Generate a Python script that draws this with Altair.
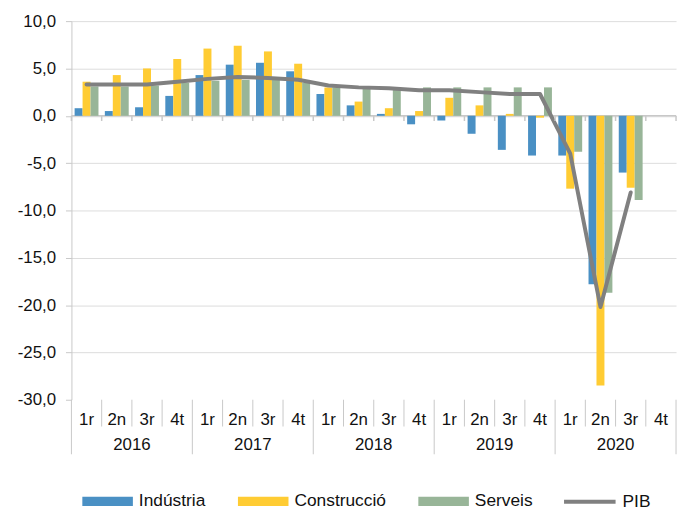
import altair as alt
import pandas as pd

years = ["2016", "2017", "2018", "2019", "2020"]
quarters = ["1r", "2n", "3r", "4t"]
series = ["Indústria", "Construcció", "Serveis", "PIB"]
colors = ["#4A90C4", "#FFCC33", "#98B598", "#808080"]

industria = [0.8, 0.5, 0.9, 2.1, 4.3, 5.4, 5.6, 4.7, 2.3, 1.1, 0.2, -0.9,
             -0.5, -1.9, -3.6, -4.2, -4.2, -17.8, -6.0, None]
construccio = [3.6, 4.3, 5.0, 6.0, 7.1, 7.4, 6.8, 5.5, 3.0, 1.5, 0.8, 0.5,
               1.9, 1.1, 0.2, -0.2, -7.7, -28.5, -7.6, None]
serveis = [3.1, 3.1, 3.2, 3.5, 3.7, 3.8, 3.8, 3.5, 3.0, 2.9, 2.9, 3.0,
           3.0, 3.0, 3.0, 3.0, -3.8, -18.7, -8.9, None]
pib = [3.3, 3.3, 3.3, 3.6, 3.9, 4.1, 4.0, 3.8, 3.2, 3.0, 2.9, 2.7,
       2.7, 2.5, 2.3, 2.3, -4.0, -20.2, -8.1, None]

y_ticks = [-30, -25, -20, -15, -10, -5, 0, 5, 10]

keys = [f"{y}-{q}" for y in years for q in quarters]
qlab = [q for y in years for q in quarters]
ylab = [y for y in years for q in quarters]

W, H = 610, 382
FONT = "Liberation Sans"
TXT = "#111111"
LINEC = "#C8C8C8"

rows = []
for name, vals in zip(series[:3], [industria, construccio, serveis]):
    for k, v in zip(keys, vals):
        if v is not None:
            rows.append({"key": k, "serie": name, "valor": v})
bars_df = pd.DataFrame(rows)
line_df = pd.DataFrame([{"key": k, "valor": v, "serie": series[3]} for k, v in zip(keys, pib) if v is not None])
cat_df = pd.DataFrame({"key": keys, "q": qlab, "year": ylab})
cat_df["ystart"] = cat_df["q"] == quarters[0]

xscale = alt.Scale(domain=keys, paddingInner=0, paddingOuter=0)
yscale = alt.Scale(domain=[y_ticks[0], y_ticks[-1]], nice=False, zero=False)

rect_path = "M-1,-0.18L1,-0.18L1,0.18L-1,0.18Z"

bar_legend = alt.Legend(
    title=None, orient="none", legendX=11, legendY=459, direction="horizontal",
    symbolType=rect_path, symbolSize=2601, symbolStrokeWidth=0, symbolOpacity=1,
    labelFontSize=17.5, labelFont=FONT, labelColor=TXT, labelOffset=6, columnPadding=32,
)
line_legend = alt.Legend(
    title=None, orient="none", legendX=495, legendY=457, direction="horizontal",
    symbolType="stroke", symbolSize=2704, symbolStrokeWidth=4, symbolOpacity=1,
    labelFontSize=17.5, labelFont=FONT, labelColor=TXT, labelOffset=5,
)

yaxis = alt.Axis(
    values=y_ticks, title=None,
    labelExpr="replace(replace(format(datum.value, '.1f'), '.', ','), '\u2212', '-')",
    labelFontSize=17, labelFont=FONT, labelColor=TXT, labelPadding=10,
    tickSize=6, tickColor=LINEC, domainColor=LINEC, gridColor="#DDDDDD",
    gridOpacity={"condition": {"test": "datum.value === -30", "value": 0}, "value": 1},
)

base_x = alt.X("key:N", scale=xscale, axis=None)

zero = alt.Chart(pd.DataFrame({"v": [0]})).mark_rule(color=LINEC, strokeWidth=1.5).encode(
    y=alt.Y("v:Q", scale=yscale, axis=yaxis), x=alt.value(0), x2=alt.value(W)
)

bars = alt.Chart(bars_df).mark_bar().encode(
    x=base_x,
    xOffset=alt.XOffset("serie:N", scale=alt.Scale(domain=series[:3], paddingOuter=0.4, paddingInner=0)),
    y=alt.Y("valor:Q", scale=yscale, axis=yaxis),
    color=alt.Color("serie:N", scale=alt.Scale(domain=series[:3], range=colors[:3]), legend=bar_legend),
)

line = alt.Chart(line_df).mark_line(strokeWidth=4, interpolate="linear",
                                    strokeCap="round", strokeJoin="round").encode(
    x=base_x, y=alt.Y("valor:Q", scale=yscale),
    stroke=alt.Stroke("serie:N", scale=alt.Scale(domain=[series[3]], range=[colors[3]]), legend=line_legend),
)

# ticks on the zero line at each category boundary
zticks = alt.Chart(cat_df).mark_rule(color=LINEC, strokeWidth=1.5).encode(
    x=alt.X("key:N", scale=xscale, axis=None, bandPosition=0),
    y=alt.datum(0, scale=yscale), y2=alt.datum(-0.55),
)
zticks_end = alt.Chart(cat_df.tail(1)).mark_rule(color=LINEC, strokeWidth=1.5).encode(
    x=alt.X("key:N", scale=xscale, axis=None, bandPosition=1),
    y=alt.datum(0, scale=yscale), y2=alt.datum(-0.55),
)

# category table below the plot
qsep = alt.Chart(cat_df[~cat_df["ystart"]]).mark_rule(color=LINEC).encode(
    x=alt.X("key:N", scale=xscale, axis=None, bandPosition=0),
    y=alt.value(H), y2=alt.value(H + 27),
)
ysep = alt.Chart(cat_df[cat_df["ystart"]]).mark_rule(color=LINEC).encode(
    x=alt.X("key:N", scale=xscale, axis=None, bandPosition=0),
    y=alt.value(H), y2=alt.value(H + 55),
)
ysep_end = alt.Chart(cat_df.tail(1)).mark_rule(color=LINEC).encode(
    x=alt.X("key:N", scale=xscale, axis=None, bandPosition=1),
    y=alt.value(H), y2=alt.value(H + 55),
)
qtext = alt.Chart(cat_df).mark_text(font=FONT, fontSize=17, color=TXT, baseline="middle").encode(
    x=alt.X("key:N", scale=xscale, axis=None), y=alt.value(H + 20), text="q:N"
)
ytext = alt.Chart(cat_df[cat_df["q"] == quarters[1]]).mark_text(
    font=FONT, fontSize=17, color=TXT, baseline="middle").encode(
    x=alt.X("key:N", scale=xscale, axis=None, bandPosition=1), y=alt.value(H + 46), text="year:N"
)

chart = alt.layer(zero, bars, line, zticks, zticks_end, qsep, ysep, ysep_end, qtext, ytext).properties(
    width=W, height=H,
    autosize=alt.AutoSizeParams(type="none"),
    padding={"left": 64, "top": 11, "right": 4, "bottom": 110},
).configure_view(stroke=None)

chart.save("out.html", embed_options={"renderer": "svg", "actions": False})
